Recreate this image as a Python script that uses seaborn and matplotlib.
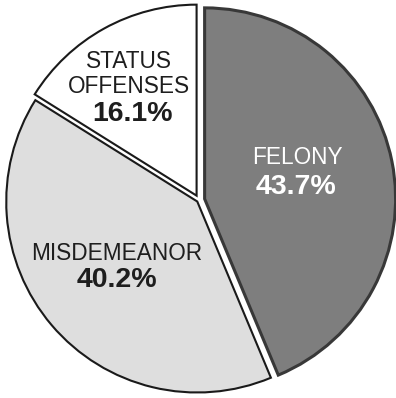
import matplotlib
matplotlib.use("Agg")
import matplotlib.pyplot as plt
import seaborn as sns

# Share of offenses by category
categories = ["FELONY", "MISDEMEANOR", "STATUS\nOFFENSES"]
shares = [43.7, 40.2, 16.1]
pct_labels = ["43.7%", "40.2%", "16.1%"]

sns.set_theme(style="white")
plt.rcParams["font.family"] = ["Liberation Sans", "DejaVu Sans"]

fill_colors = ["#7e7e7e", "#dedede", "#ffffff"]
edge_colors = ["#383838", "#1a1a1a", "#1a1a1a"]
edge_widths = [2.2, 1.5, 1.5]
text_colors = ["white", "#1e1e1e", "#1e1e1e"]
explode = [0.03, 0.012, 0.026]

W, H = 396, 398
R_PX = 191.0
CX, CY = 199.0, 200.0

fig = plt.figure(figsize=(W / 100, H / 100), dpi=100)
ax = fig.add_axes([0, 0, 1, 1])

wedges, _ = ax.pie(
    shares,
    colors=fill_colors,
    explode=explode,
    startangle=90,
    counterclock=False,
    radius=1.0,
    wedgeprops=dict(linewidth=1.5, joinstyle="miter"),
)
for w, ec, lw in zip(wedges, edge_colors, edge_widths):
    w.set_edgecolor(ec)
    w.set_linewidth(lw)

ax.set_xlim(-CX / R_PX, (W - CX) / R_PX)
ax.set_ylim(-(H - CY) / R_PX, CY / R_PX)
ax.set_aspect("auto")
ax.axis("off")

def px(x, y):
    return (x - CX) / R_PX, (CY - y) / R_PX

# label centres (name line, percentage line) in pixel space
name_pos = [(297, 158), (117, 253), (129, 74)]
pct_pos = [(296, 187), (117, 280), (132, 114)]

for i in range(len(categories)):
    nx, ny = px(*name_pos[i])
    ax.text(nx, ny, categories[i], ha="center", va="center",
            fontsize=16.3, color=text_colors[i], linespacing=1.15)
    qx, qy = px(*pct_pos[i])
    ax.text(qx, qy, pct_labels[i], ha="center", va="center",
            fontsize=20.5, fontweight="bold", color=text_colors[i])

fig.savefig("out.png", dpi=100, facecolor="white")
